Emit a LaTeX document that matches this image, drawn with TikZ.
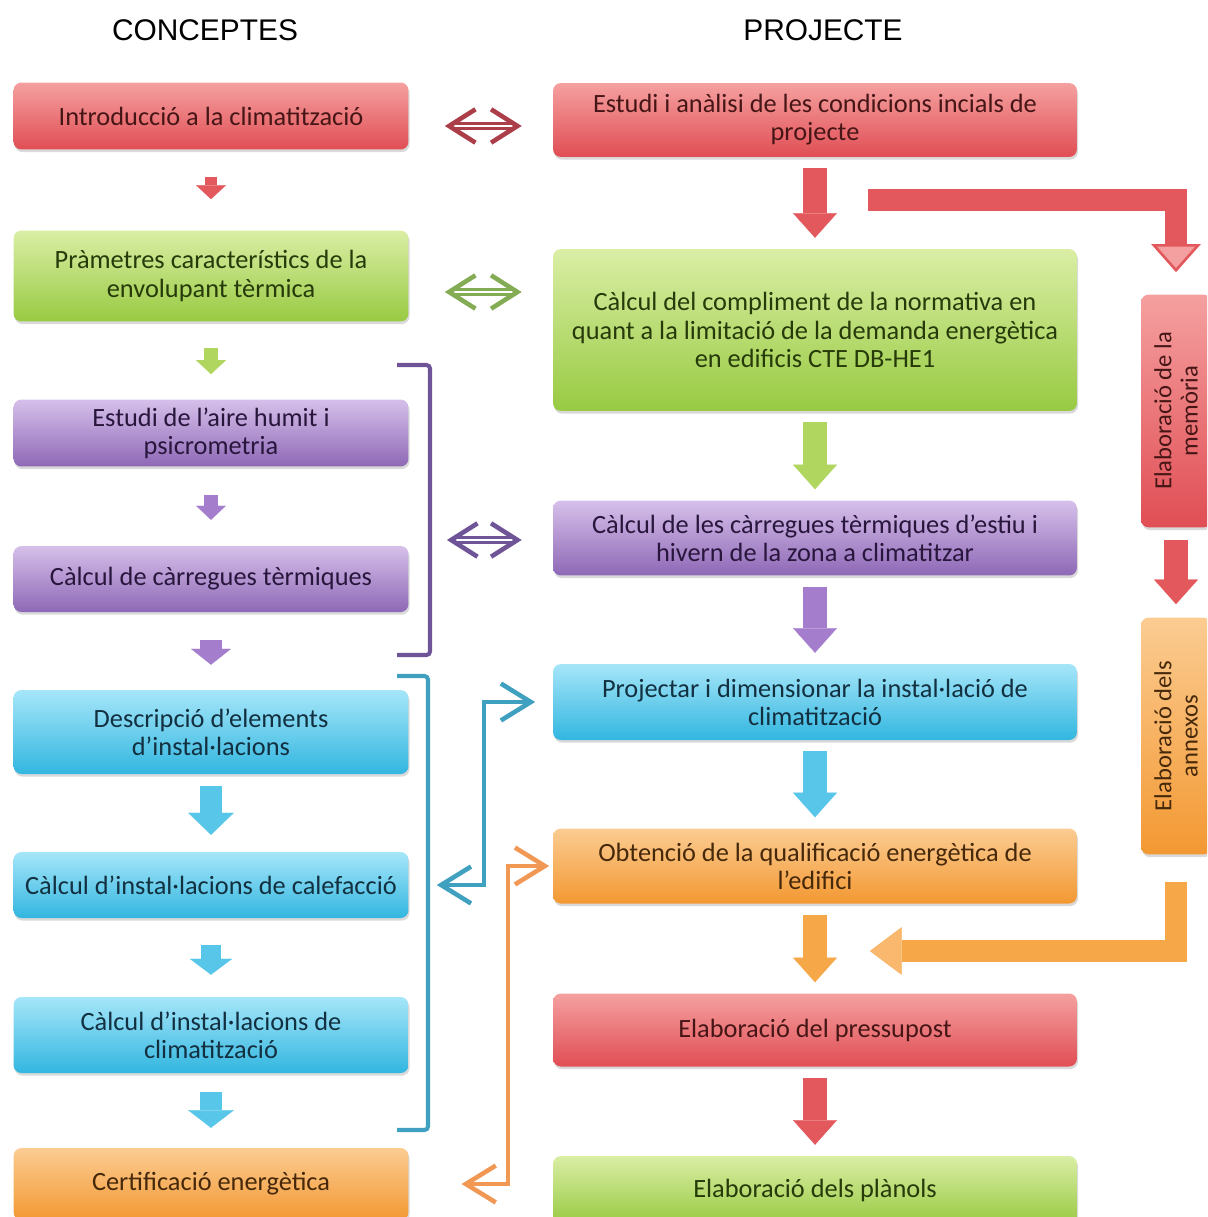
\documentclass[tikz,border=0pt]{standalone}
\usepackage{fontspec}
\setmainfont{Carlito}
\newfontfamily\headfont{Liberation Sans}
\usetikzlibrary{arrows.meta,shadows}

\definecolor{redT}{RGB}{245,160,160}
\definecolor{redB}{RGB}{224,78,84}
\definecolor{redTx}{RGB}{70,22,22}
\definecolor{grnT}{RGB}{218,238,165}
\definecolor{grnB}{RGB}{152,202,66}
\definecolor{grnTx}{RGB}{38,58,10}
\definecolor{purT}{RGB}{214,192,234}
\definecolor{purB}{RGB}{142,104,182}
\definecolor{purTx}{RGB}{40,22,60}
\definecolor{cynT}{RGB}{166,230,249}
\definecolor{cynB}{RGB}{50,182,224}
\definecolor{cynTx}{RGB}{18,48,64}
\definecolor{orgT}{RGB}{251,204,146}
\definecolor{orgB}{RGB}{243,152,50}
\definecolor{orgTx}{RGB}{70,40,10}
\definecolor{arR}{RGB}{226,88,92}
\definecolor{arG}{RGB}{176,214,96}
\definecolor{arP}{RGB}{164,126,204}
\definecolor{arC}{RGB}{88,198,232}
\definecolor{arO}{RGB}{246,168,72}
\definecolor{arOl}{RGB}{249,184,110}
\definecolor{dblR}{RGB}{172,62,74}
\definecolor{dblG}{RGB}{132,172,84}
\definecolor{dblP}{RGB}{112,84,152}
\definecolor{brkP}{RGB}{112,84,152}
\definecolor{brkC}{RGB}{64,160,192}
\definecolor{lnkO}{RGB}{240,152,84}

\tikzset{
  box/.style={rounded corners=4.5pt, align=center, inner sep=2pt,
    font=\fontsize{15}{16}\selectfont,
    drop shadow={shadow xshift=0.6pt, shadow yshift=-1.5pt, opacity=0.3}},
  redbox/.style={box, top color=redT, bottom color=redB, text=redTx},
  grnbox/.style={box, top color=grnT, bottom color=grnB, text=grnTx},
  purbox/.style={box, top color=purT, bottom color=purB, text=purTx},
  cynbox/.style={box, top color=cynT, bottom color=cynB, text=cynTx},
  orgbox/.style={box, top color=orgT, bottom color=orgB, text=orgTx},
  lcol/.style={minimum width=7.9cm},
  rcol/.style={minimum width=10.48cm},
  vcol/.style={rotate=90, minimum width=#1, minimum height=1.4cm},
  colhead/.style={font=\headfont\fontsize{17}{20}\selectfont},
  blk/.style n args={4}{draw=#1, line width=#2,
    -{Triangle[width=#3, length=#4, line width=0.1pt]}},
  rarrow/.style={blk={#1}{13.6pt}{25pt}{14pt}, shorten <=6.2pt, shorten >=6.2pt},
  dbl/.style={draw=#1, line width=1.6pt, double=white, double distance=1.6pt,
    {Straight Barb[length=15pt, width=19pt, line width=2.6pt]}-{Straight Barb[length=15pt, width=19pt, line width=2.6pt]}},
  brk/.style={draw=#1, line width=2.3pt, rounded corners=2pt},
  conn/.style={draw=#1, line width=2.6pt,
    {Straight Barb[length=17pt, width=21pt]}-{Straight Barb[length=17pt, width=21pt]}}
}

\begin{document}
\begin{tikzpicture}[x=0.02cm, y=-0.02cm]
\useasboundingbox (0,0) rectangle (1207,1217);
\clip (0,0) rectangle (1207,1217);

% column titles
\node[colhead] at (205,30) (hconc) {CONCEPTES};
\node[colhead] at (823,30) (hproj) {PROJECTE};

% left column: concepts
\node[redbox, lcol, minimum height=1.34cm] at (211,116) (intro) {Introducció a la climatització};
\node[grnbox, lcol, minimum height=1.82cm] at (211,276) (param) {Pràmetres característics de la\\envolupant tèrmica};
\node[purbox, lcol, minimum height=1.34cm] at (211,433) (aire) {Estudi de l’aire humit i\\psicrometria};
\node[purbox, lcol, minimum height=1.32cm] at (211,579) (carr) {Càlcul de càrregues tèrmiques};
\node[cynbox, lcol, minimum height=1.68cm] at (211,732) (descr) {Descripció d’elements\\d’instal·lacions};
\node[cynbox, lcol, minimum height=1.32cm] at (211,885) (calef) {Càlcul d’instal·lacions de calefacció};
\node[cynbox, lcol, minimum height=1.52cm] at (211,1035) (clim) {Càlcul d’instal·lacions de\\climatització};
\node[orgbox, lcol, minimum height=1.44cm] at (211,1184) (cert) {Certificació energètica};

% right column: project
\node[redbox, rcol, minimum height=1.48cm] at (815,120) (estudi) {Estudi i anàlisi de les condicions incials de\\projecte};
\node[grnbox, rcol, minimum height=3.24cm] at (815,330) (norma) {Càlcul del compliment de la normativa en\\quant a la limitació de la demanda energètica\\en edificis CTE DB-HE1};
\node[purbox, rcol, minimum height=1.5cm] at (815,538) (zona) {Càlcul de les càrregues tèrmiques d’estiu i\\hivern de la zona a climatitzar};
\node[cynbox, rcol, minimum height=1.52cm] at (815,702) (proj) {Projectar i dimensionar la instal·lació de\\climatització};
\node[orgbox, rcol, minimum height=1.5cm] at (815,866) (qualif) {Obtenció de la qualificació energètica de\\l’edifici};
\node[redbox, rcol, minimum height=1.46cm] at (815,1030) (press) {Elaboració del pressupost};
\node[grnbox, rcol, minimum height=1.36cm] at (815,1190) (planol) {Elaboració dels plànols};

% documents
\node[redbox, vcol=4.66cm, font=\fontsize{14}{15}\selectfont] at (1176,411) (memo) {Elaboració de la\\memòria};
\node[orgbox, vcol=4.74cm, font=\fontsize{14}{15}\selectfont] at (1176,736) (annex) {Elaboració dels\\annexos};

% left column arrows
\draw[blk={arR}{7pt}{17pt}{8pt}, shorten <=15.3pt, shorten >=17.6pt] (intro) -- (param);
\draw[blk={arG}{8pt}{17pt}{8pt}, shorten <=14.7pt, shorten >=14.2pt] (param) -- (aire);
\draw[blk={arP}{8pt}{17pt}{8pt}, shorten <=15.9pt, shorten >=14.7pt] (aire) -- (carr);
\draw[blk={arP}{12.5pt}{22.7pt}{9pt}, shorten <=15.9pt, shorten >=14.2pt] (carr) -- (descr);
\draw[blk={arC}{12.5pt}{26pt}{12.5pt}, shorten <=6.8pt, shorten >=9.6pt] (descr) -- (calef);
\draw[blk={arC}{11.3pt}{24pt}{9pt}, shorten <=15.3pt, shorten >=12.5pt] (calef) -- (clim);
\draw[blk={arC}{12.5pt}{26pt}{10pt}, shorten <=10.8pt, shorten >=11.3pt] (clim) -- (cert);

% right column arrows
\draw[rarrow=arR] (estudi) -- (norma);
\draw[rarrow=arG] (norma) -- (zona);
\draw[rarrow=arP] (zona) -- (proj);
\draw[rarrow=arC] (proj) -- (qualif);
\draw[rarrow=arO] (qualif) -- (press);
\draw[rarrow=arR] (press) -- (planol);
\draw[rarrow=arR, shorten <=6.8pt, shorten >=7.4pt] (memo) -- (annex);

% elbow arrows
\coordinate (rstart) at (868,200);
\coordinate (oend) at (870,951);
\draw[draw=arR, line width=12.5pt, shorten >=12.5pt,
  -{Triangle[width=28pt, length=16pt, line width=1.5pt, fill=redT]}] (rstart) -| (memo);
\draw[draw=arO, line width=12.5pt, shorten <=15.3pt,
  -{Triangle[width=27pt, length=18pt, line width=0.1pt, fill=arOl]}] (annex) |- (oend);

% brackets
\draw[brk=brkP] (397,365) -- (430,365) -- (430,655) -- (397,655);
\draw[brk=brkC] (397,676) -- (428,676) -- (428,1130) -- (397,1130);
\coordinate (pbr) at (430,540);
\coordinate (cbr) at (428,885);

% double arrows
\draw[dbl=dblR] ([shift={(36,10)}]intro.east) -- ([shift={(-31,6)}]estudi.west);
\draw[dbl=dblG] ([shift={(36,16)}]param.east) -- ([shift={(-31,-38)}]norma.west);
\draw[dbl=dblP, shorten <=9.6pt] (pbr) -- ([shift={(-31,2)}]zona.west);

% links
\draw[conn=brkC, shorten <=5pt, shorten >=10pt] (cbr) -- ++(56,0) |- (proj.west);
\draw[conn=lnkO, shorten <=30pt, shorten >=2pt] (cert.east) -- ++(99,0) |- (qualif.west);
\end{tikzpicture}
\end{document}
